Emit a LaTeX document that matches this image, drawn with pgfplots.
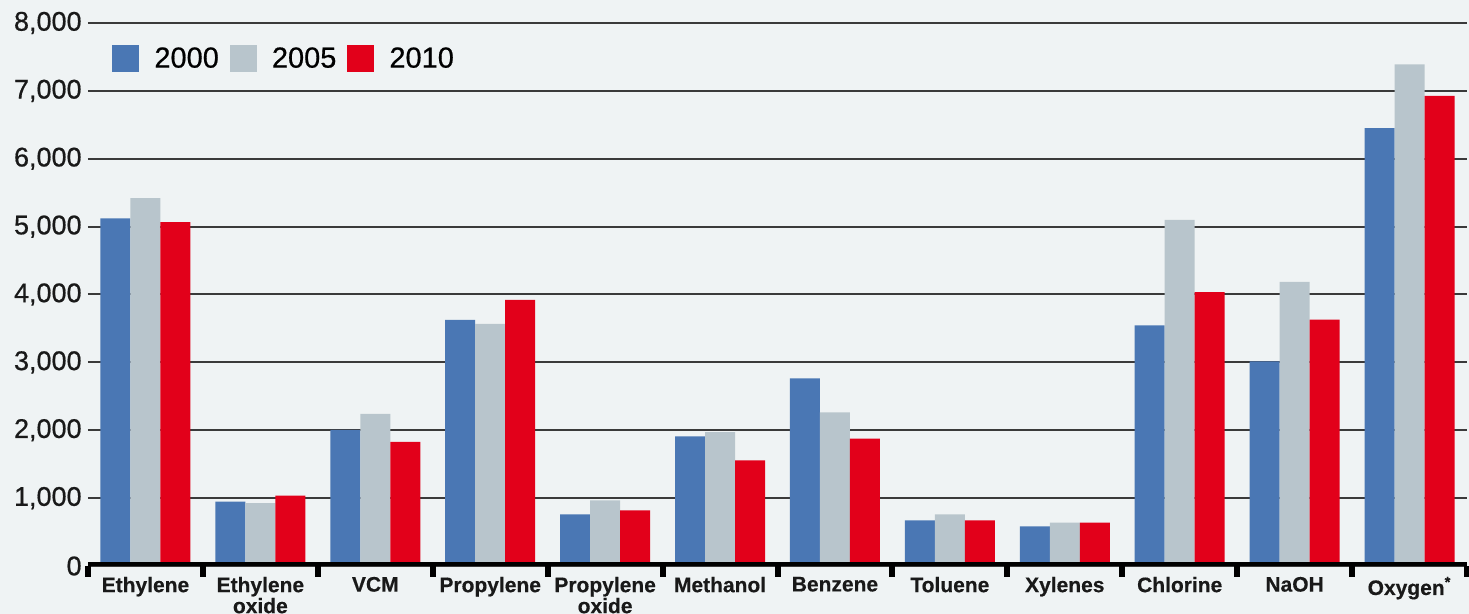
\documentclass[border=0pt]{standalone}
\usepackage{fontspec}
\setmainfont{Liberation Sans}
\newfontfamily\catfont[FakeBold=0.4]{Liberation Sans Bold}
\newfontfamily\numfont[FakeBold=0.6]{Liberation Sans}
\usepackage{pgfplots}
\pgfplotsset{compat=1.18}
\definecolor{bgc}{HTML}{EFF3F4}
\definecolor{cblue}{HTML}{4A77B4}
\definecolor{cgray}{HTML}{B8C5CC}
\definecolor{cred}{HTML}{E2001A}
\definecolor{cgrid}{HTML}{3A3A3A}
\begin{document}
\begin{tikzpicture}
\fill[bgc] (-44pt,-24pt) rectangle (690.5pt,283pt);
\begin{axis}[
  scale only axis,
  width=689.5pt, height=271.5pt,
  anchor=south west, at={(0pt,0pt)},
  xmin=-0.5, xmax=11.5, ymin=0, ymax=8000,
  ybar=0pt, bar width=15pt,
  axis line style={draw=none},
  ymajorgrids, grid style={cgrid, line width=1pt},
  ytick={0,1000,...,8000},
  ytick style={draw=none},
  yticklabel style={font=\numfont\fontsize{13.5}{14}\selectfont, color=black!90, inner xsep=0pt, xshift=-3pt},
  /pgf/number format/assume math mode=true,
  /pgf/number format/1000 sep={,},
  scaled y ticks=false,
  xtick={0,...,11},
  xticklabels={Ethylene,Ethylene\\oxide,VCM,Propylene,Propylene\\oxide,Methanol,Benzene,Toluene,Xylenes,Chlorine,NaOH,Oxygen\textsuperscript{*}},
  xticklabel style={font=\catfont\fontsize{10.5}{10.5}\selectfont, align=center, inner sep=0pt, anchor=north, yshift=-1pt, color=black!90},
  major x tick style={draw=none},
  xtick pos=bottom,
  extra x ticks={-0.5,0.5,...,11.5},
  extra x tick labels={},
  extra x tick style={major tick length=5.5pt, tick align=outside, major x tick style={draw=black, line width=3pt}},
  legend style={at={(axis description cs:0.0174,0.9337)}, anchor=west, draw=none, fill=none, inner sep=0pt,
    font=\numfont\fontsize{14.5}{15}\selectfont,
    /tikz/every odd column/.append style={column sep=5.5pt},
    /tikz/every even column/.append style={column sep=3.5pt}},
  legend columns=3,
  legend image code/.code={\fill[#1] (0pt,-6.75pt) rectangle (13.5pt,6.75pt);},
]
\addplot[fill=cblue, draw=none] coordinates {(0,5122) (1,947) (2,2006) (3,3625) (4,760) (5,1910) (6,2764) (7,671) (8,582) (9,3544) (10,3013) (11,6451)};
\addplot[fill=cgray, draw=none] coordinates {(0,5418) (1,927) (2,2240) (3,3566) (4,966) (5,1972) (6,2262) (7,760) (8,639) (9,5099) (10,4187) (11,7392)};
\addplot[fill=cred, draw=none] coordinates {(0,5065) (1,1035) (2,1827) (3,3920) (4,819) (5,1556) (6,1878) (7,671) (8,639) (9,4035) (10,3630) (11,6927)};
\legend{2000,2005,2010}
\draw[black, line width=3.5pt] (axis cs:-0.5,0) -- (axis cs:11.5,0);
\end{axis}
\pgfresetboundingbox
\path[use as bounding box] (-44pt,-24pt) rectangle (690.5pt,283pt);
\end{tikzpicture}
\end{document}
